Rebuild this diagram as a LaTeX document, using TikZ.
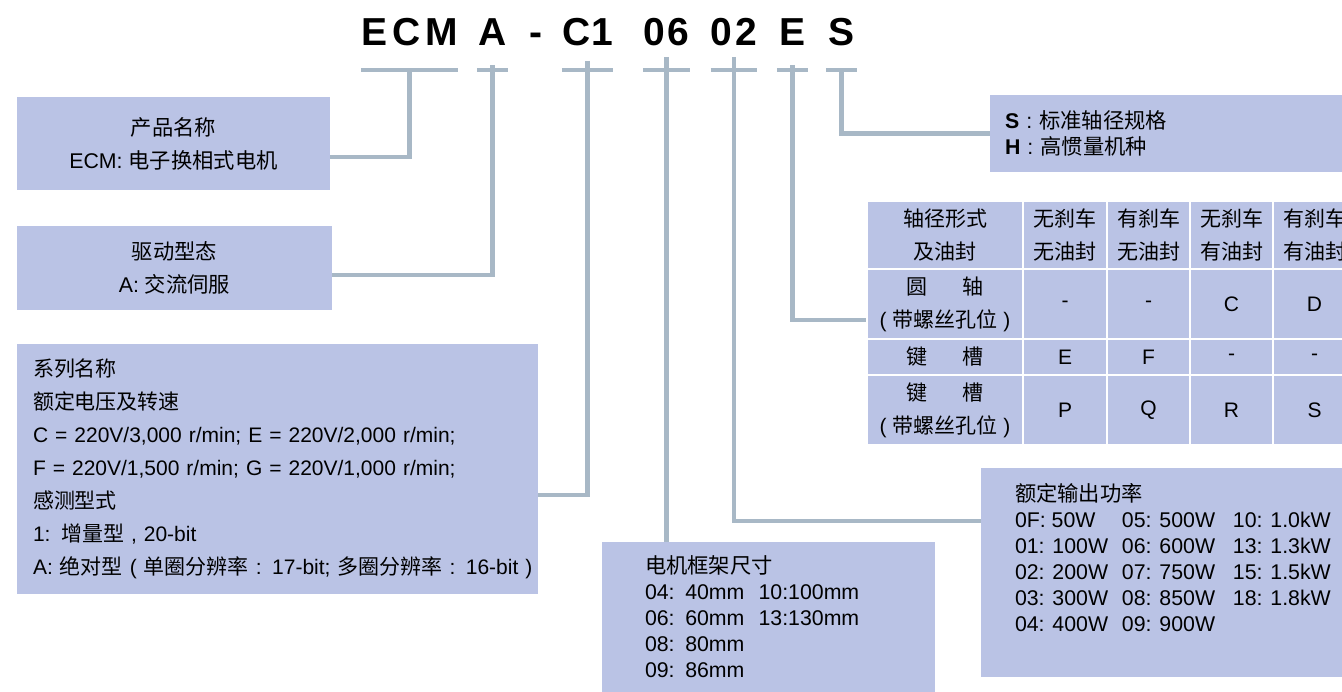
\documentclass[tikz,border=0pt]{standalone}
\usepackage{fontspec}
\setmainfont{Liberation Sans}
\newfontfamily\cjk{Noto Sans CJK SC}
\newcommand\zh[1]{{\cjk #1}}
\newcommand\pwrow[3]{\makebox[107pt][l]{#1}\makebox[111pt][l]{#2}#3}
\definecolor{boxc}{HTML}{BAC3E5}
\definecolor{linkc}{HTML}{A8B8C6}
\begin{document}
\begin{tikzpicture}[x=1pt,y=-1pt,
  code/.style={font=\fontsize{39}{39}\selectfont\bfseries, anchor=base, inner sep=0},
  link/.style={draw=linkc, line width=4.5pt},
  box/.style={fill=boxc, inner sep=0, font=\fontsize{21.3}{33}\selectfont},
  cell/.style={fill=boxc, draw=white, line width=2pt, inner sep=0, align=center,
    font=\fontsize{21}{33}\selectfont}]
  \useasboundingbox (0,0) rectangle (1342,692);
  \foreach \n/\x/\w/\txt in {ecm/409.5/97/{E\kern5pt C\kern5pt M}, a/492.5/31/A,
    c1/587.5/49/{C\kern1pt 1}, f06/666.5/47/{0\kern3pt 6}, p02/734/46/{0\kern3pt 2},
    e/792.5/31/E, s/841.5/31/S}
    \node[code, minimum width=\w] (\n) at (\x,46) {\txt};
  \node[code] (hyph) at (536,46) {-};
  \foreach \n in {ecm,a,c1,f06,p02,e,s}
    \draw[link] ([yshift=-24pt]\n.base west) -- ([yshift=-24pt]\n.base east);

  \node[box, minimum width=313, minimum height=93, align=center] (prod) at (173.5,143.5)
    {\zh{产品名称}\\ECM: \zh{电子换相式电机}};
  \node[box, minimum width=315, minimum height=84, align=center] (drive) at (174.5,268)
    {\zh{驱动型态}\\A: \zh{交流伺服}};
  \node[box, font=\fontsize{21}{33}\selectfont, minimum width=521, minimum height=250,
    align=left, text width=489] (series) at (277.5,469)
    {\zh{系列名称}\\\zh{额定电压及转速}\\C = 220V/3,000 r/min; E = 220V/2,000 r/min;\\
     F = 220V/1,500 r/min; G = 220V/1,000 r/min;\\\zh{感测型式}\\1: \zh{增量型} , 20-bit\\
     \mbox{A: \zh{绝对型} ( \zh{单圈分辨率} : 17-bit; \zh{多圈分辨率} : 16-bit )}};
  \node[box, font=\fontsize{21.3}{26}\selectfont, minimum width=333, minimum height=150,
    align=left, text width=247] (frame) at (768.5,617)
    {\zh{电机框架尺寸}\\04: 40mm\ \ 10:100mm\\06: 60mm\ \ 13:130mm\\08: 80mm\\09: 86mm};
  \node[box, minimum width=370, minimum height=209] (power) at (1166,572.5) {};
  \node[anchor=north west, inner sep=0, align=left, font=\fontsize{21.3}{26}\selectfont] (powtxt)
    at ([xshift=34pt,yshift=-15pt]power.north west)
    {\zh{额定输出功率}\\\pwrow{0F: 50W}{05: 500W}{10: 1.0kW}\\\pwrow{01: 100W}{06: 600W}{13: 1.3kW}\\
     \pwrow{02: 200W}{07: 750W}{15: 1.5kW}\\\pwrow{03: 300W}{08: 850W}{18: 1.8kW}\\
     \pwrow{04: 400W}{09: 900W}{}};
  \node[box, font=\fontsize{21.3}{26}\selectfont, minimum width=362, minimum height=77,
    align=left, text width=332] (shaft) at (1171,133.5)
    {\textbf{S} : \zh{标准轴径规格}\\\textbf{H} : \zh{高惯量机种}};

  \foreach \c/\x/\w/\txt in {1/945/156/{\zh{轴径形式}\\\zh{及油封}}, 2/1065/84/{\zh{无刹车}\\\zh{无油封}},
    3/1148.5/83/{\zh{有刹车}\\\zh{无油封}}, 4/1231.5/83/{\zh{无刹车}\\\zh{有油封}},
    5/1314.5/83/{\zh{有刹车}\\\zh{有油封}}}
    \node[cell, minimum width=\w, minimum height=68] (h\c) at (\x,235) {\txt};
  \foreach \c/\x/\w/\txt in {1/945/156/{\zh{圆\hspace{1.7em}轴}\\( \zh{带螺丝孔位} )}, 2/1065/84/-,
    3/1148.5/83/-, 4/1231.5/83/C, 5/1314.5/83/D}
    \node[cell, minimum width=\w, minimum height=70] (r\c) at (\x,304) {\txt};
  \foreach \c/\x/\w/\txt in {1/945/156/{\zh{键\hspace{1.7em}槽}}, 2/1065/84/E,
    3/1148.5/83/F, 4/1231.5/83/-, 5/1314.5/83/-}
    \node[cell, minimum width=\w, minimum height=36] (k\c) at (\x,357) {\txt};
  \foreach \c/\x/\w/\txt in {1/945/156/{\zh{键\hspace{1.7em}槽}\\( \zh{带螺丝孔位} )}, 2/1065/84/P,
    3/1148.5/83/Q, 4/1231.5/83/R, 5/1314.5/83/S}
    \node[cell, minimum width=\w, minimum height=70] (q\c) at (\x,410) {\txt};

  \draw[link] ([yshift=-24pt]ecm.base) |- ([yshift=-13.5pt]prod.east);
  \draw[link] ([yshift=-19pt]a.base) |- ([yshift=-7pt]drive.east);
  \draw[link] ([yshift=-15pt]c1.base) |- ([yshift=-26pt]series.east);
  \draw[link] ([yshift=-11pt]f06.base) -- (f06.base |- frame.north);
  \draw[link] ([yshift=-11pt]p02.base) |- ([yshift=51.5pt]power.west);
  \draw[link] ([yshift=-19pt]e.base) |- ([yshift=-16pt]r1.west);
  \draw[link] ([yshift=-24pt]s.base) |- (shaft.west);
\end{tikzpicture}
\end{document}
